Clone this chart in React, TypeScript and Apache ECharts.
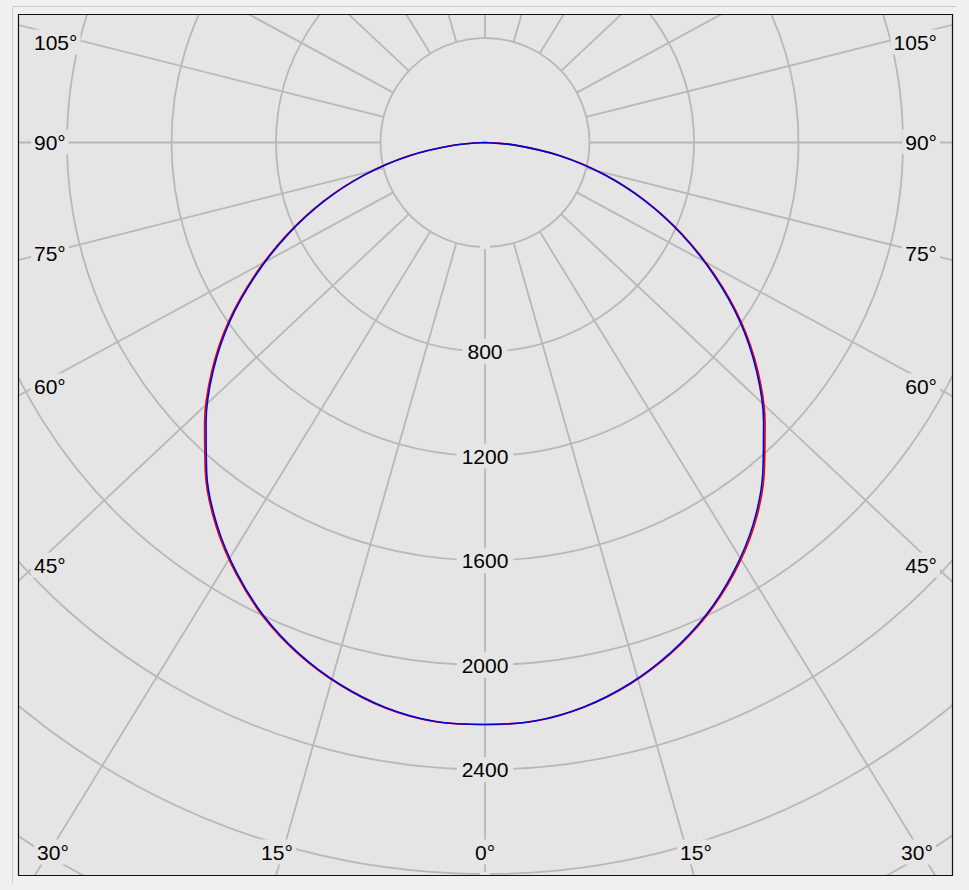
import React, { useEffect, useRef } from 'react';
import * as echarts from 'echarts';

// ---------- data ----------
const gammaAngles = [0, 5, 10, 15, 20, 25, 30, 35, 40, 45, 50, 55, 60, 65, 70, 75, 80, 85, 90];
const redLeft = [2228, 2225, 2198, 2149, 2085, 2005, 1906, 1794, 1664, 1518, 1366, 1200, 1019, 838, 659, 479, 298, 121, 0];
const redRight = [2228, 2223, 2194, 2146, 2081, 2002, 1906, 1795, 1662, 1516, 1364, 1197, 1016, 835, 655, 473, 292, 115, 0];
const blueLeft = [2228, 2224, 2196, 2147, 2082, 2001, 1901, 1788, 1657, 1510, 1358, 1192, 1012, 832, 654, 475, 296, 120, 0];
const blueRight = [2228, 2222, 2193, 2144, 2078, 1998, 1900, 1788, 1654, 1508, 1356, 1190, 1010, 829, 650, 470, 290, 115, 0];

const radiusTickLabels = ['800', '1200', '1600', '2000', '2400'];
const spokeAngles = [0, 15, 30, 45, 60, 75, 90, 105, 120, 135, 150, 165, 180];
const sideLabels = ['105°', '90°', '75°', '60°', '45°'];
const bottomLabels = ['30°', '15°', '0°', '15°', '30°'];

// ---------- layout ----------
const W = 969;
const H = 890;
const CX = 485;
const CY = 142.5;
const PX_PER_UNIT = 104.5 / 400;
const R_MAX = 3600;
const R_INNER = 400;
const SPOKE_ASPECT = 0.94;
const SIDE_LABEL_Y = [42, 142, 253, 386, 565];
const BOTTOM_LABEL_X = [53, 277, 485, 696, 917];
const BOTTOM_LABEL_Y = 852;
const FRAME = { x: 18.5, y: 14.5, w: 934, h: 861 };

const PLOT_BG = '#e5e5e5';
const PAGE_BG = '#f0f0f0';
const GRID = '#b8b8b8';
const FONT = '"Liberation Sans", Arial, sans-serif';

const d2r = Math.PI / 180;
const displayAngle = (t: number) =>
  Math.atan2(Math.sin(t * d2r), SPOKE_ASPECT * Math.cos(t * d2r)) / d2r;

function curveData(left: number[], right: number[]) {
  const pts: number[][] = [];
  for (let i = gammaAngles.length - 1; i >= 0; i--) pts.push([left[i], gammaAngles[i]]);
  for (let i = 1; i < gammaAngles.length; i++) pts.push([right[i], 360 - gammaAngles[i]]);
  return pts;
}

function spokeData() {
  const out: number[][] = [];
  spokeAngles.forEach((t) => {
    const a = displayAngle(t);
    out.push([R_MAX, a]);
    if (t > 0 && t < 180) out.push([R_MAX, 360 - a]);
  });
  return out;
}

export default function App() {
  const ref = useRef<HTMLDivElement>(null);

  useEffect(() => {
    if (!ref.current) return;
    const chart = echarts.init(ref.current, undefined, { renderer: 'svg' });

    const labelStyle = (text: string, x: number, y: number, align: string) => ({
      type: 'text',
      z: 102,
      style: {
        text,
        x,
        y,
        align,
        verticalAlign: 'middle',
        fill: '#000',
        font: `21px ${FONT}`,
        backgroundColor: PLOT_BG,
        padding: [2, 3],
      },
    });

    const graphics: any[] = [
      { type: 'rect', z: 100, shape: { x: 0, y: 0, width: W, height: FRAME.y }, style: { fill: PAGE_BG } },
      { type: 'rect', z: 100, shape: { x: 0, y: FRAME.y + FRAME.h, width: W, height: H - FRAME.y - FRAME.h }, style: { fill: PAGE_BG } },
      { type: 'rect', z: 100, shape: { x: 0, y: 0, width: FRAME.x, height: H }, style: { fill: PAGE_BG } },
      { type: 'rect', z: 100, shape: { x: FRAME.x + FRAME.w, y: 0, width: W - FRAME.x - FRAME.w, height: H }, style: { fill: PAGE_BG } },
      { type: 'line', z: 101, shape: { x1: 12.5, y1: 6.5, x2: 956.5, y2: 6.5 }, style: { stroke: '#cacaca', lineWidth: 1 } },
      { type: 'line', z: 101, shape: { x1: 12.5, y1: 6.5, x2: 12.5, y2: 883 }, style: { stroke: '#cacaca', lineWidth: 1 } },
      { type: 'rect', z: 101, shape: { x: FRAME.x, y: FRAME.y, width: FRAME.w, height: FRAME.h }, style: { fill: 'none', stroke: '#111', lineWidth: 1.2 } },
    ];
    sideLabels.forEach((t, i) => {
      graphics.push(labelStyle(t, 31, SIDE_LABEL_Y[i], 'left'));
      graphics.push(labelStyle(t, 940, SIDE_LABEL_Y[i], 'right'));
    });
    bottomLabels.forEach((t, i) => {
      graphics.push(labelStyle(t, BOTTOM_LABEL_X[i], BOTTOM_LABEL_Y, 'center'));
    });

    chart.setOption({
      animation: false,
      backgroundColor: PLOT_BG,
      polar: { center: [CX, CY], radius: [0, R_MAX * PX_PER_UNIT] },
      angleAxis: {
        type: 'value',
        min: 0,
        max: 360,
        startAngle: 270,
        clockwise: true,
        axisLine: { show: false },
        axisTick: { show: false },
        axisLabel: { show: false },
        splitLine: { show: false },
      },
      radiusAxis: {
        type: 'value',
        min: 0,
        max: R_MAX,
        interval: 400,
        z: 3,
        axisLine: { show: false },
        axisTick: { show: false },
        axisLabel: {
          show: true,
          margin: 0,
          align: 'center',
          verticalAlign: 'middle',
          color: '#000',
          fontSize: 21,
          fontFamily: FONT,
          backgroundColor: PLOT_BG,
          padding: [3, 5, 1, 5],
          formatter: (v: number) => (radiusTickLabels.includes(String(v)) ? String(v) : ''),
        },
        splitLine: { show: true, lineStyle: { color: GRID, width: 1.8 } },
      },
      graphic: { elements: graphics },
      series: [
        {
          type: 'custom',
          coordinateSystem: 'polar',
          z: 1,
          silent: true,
          data: spokeData(),
          renderItem: (_params: any, api: any) => {
            const a = api.value(1);
            const p1 = api.coord([R_INNER, a]);
            const p2 = api.coord([R_MAX, a]);
            return {
              type: 'line',
              shape: { x1: p1[0], y1: p1[1], x2: p2[0], y2: p2[1] },
              style: { stroke: GRID, lineWidth: 1.8 },
            };
          },
        },
        {
          type: 'line',
          name: 'C0-C180',
          coordinateSystem: 'polar',
          z: 4,
          showSymbol: false,
          smooth: 0.3,
          data: curveData(redLeft, redRight),
          lineStyle: { color: '#ee0000', width: 1.6 },
        },
        {
          type: 'line',
          name: 'C90-C270',
          coordinateSystem: 'polar',
          z: 5,
          showSymbol: false,
          smooth: 0.3,
          data: curveData(blueLeft, blueRight),
          lineStyle: { color: '#0000d8', width: 1.6 },
        },
      ],
    });

    return () => chart.dispose();
  }, []);

  return (
    <div
      ref={ref}
      style={{ position: 'fixed', left: 0, top: 0, width: W, height: H }}
    />
  );
}
